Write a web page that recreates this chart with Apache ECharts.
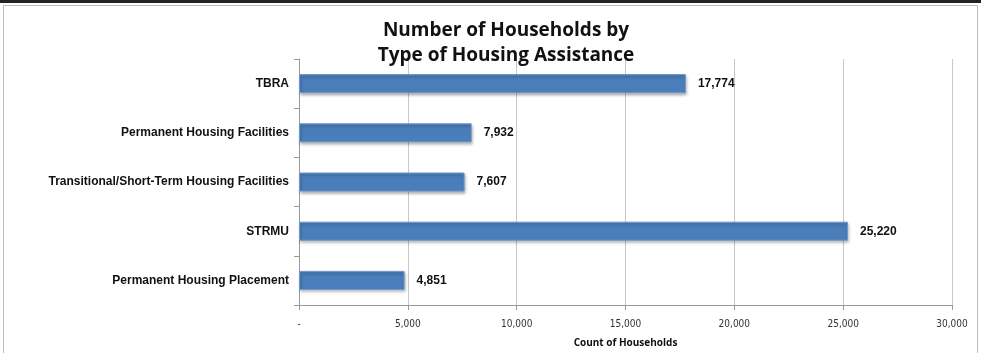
<!DOCTYPE html>
<html><head><meta charset="utf-8">
<script src="https://cdn.jsdelivr.net/npm/echarts@6/dist/echarts.min.js"></script>
<style>
html,body{margin:0;padding:0;background:#fff;}
#frame{position:absolute;left:0;top:0;width:981px;height:353px;box-sizing:border-box;border-top:3px solid #222;}
#c{position:absolute;left:3px;top:5px;width:975px;height:348px;border:1px solid #bdbdbd;border-bottom:none;box-sizing:border-box;}
</style></head>
<body><div id="frame"></div><div id="c"></div>
<script>
const categories = ["TBRA","Permanent Housing Facilities","Transitional/Short-Term Housing Facilities","STRMU","Permanent Housing Placement"];
const values = [17774, 7932, 7607, 25220, 4851];
const titleLines = ["Number of Households by","Type of Housing Assistance"];
const axisName = "Count of Households";

const labelFont = "'Liberation Sans Narrow', 'Liberation Sans', Arial, sans-serif";
const chart = echarts.init(document.getElementById('c'));
chart.setOption({
  animation:false,
  title:{text:titleLines.join('\n'),left:497,top:7,textAlign:'center',
    textStyle:{fontFamily:'Open Sans',fontWeight:'bold',fontSize:19,lineHeight:25,color:'#111'}},
  grid:{left:295,right:25,top:53,bottom:47},
  xAxis:{type:'value',min:0,max:30000,interval:5000,
    name:axisName,nameLocation:'middle',nameGap:33,
    nameTextStyle:{fontFamily:'Open Sans',fontWeight:'bold',fontSize:10,color:'#111'},
    axisLine:{show:true,lineStyle:{color:'#999'}},
    axisTick:{show:true,length:5,lineStyle:{color:'#999'}},
    splitLine:{show:true,lineStyle:{color:'#c8c8c8',width:1}},
    axisLabel:{fontFamily:'DejaVu Sans Condensed',fontSize:10,color:'#333',margin:14,
      formatter:v=>v===0?'-':v.toLocaleString('en-US')}},
  yAxis:{type:'category',data:categories,inverse:true,
    axisLine:{show:true,lineStyle:{color:'#999'}},
    axisTick:{show:true,length:5,lineStyle:{color:'#999'}},
    axisLabel:{fontFamily:labelFont,fontWeight:'bold',fontSize:12,color:'#111',margin:10}},
  series:[{type:'bar',data:values,barWidth:19,
    itemStyle:{color:'#4a7ebb',borderColor:'#6d98cc',borderWidth:1,shadowColor:'rgba(0,0,0,0.35)',shadowBlur:3,shadowOffsetX:1,shadowOffsetY:2},
    label:{show:true,position:'right',distance:12,fontFamily:labelFont,fontWeight:'bold',fontSize:12,color:'#111',
      formatter:p=>p.value.toLocaleString('en-US')}}]
});
</script></body></html>
